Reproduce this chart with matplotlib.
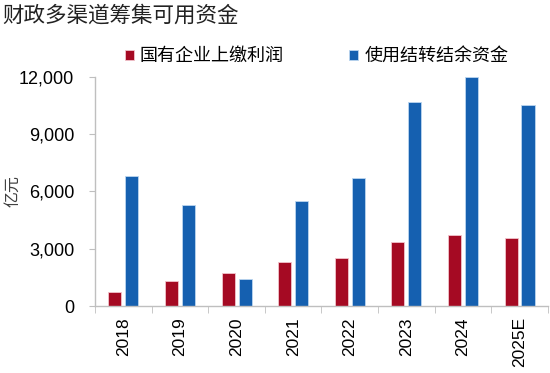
import matplotlib
matplotlib.use('Agg')
import matplotlib.pyplot as plt
import numpy as np

plt.rcParams['font.family'] = ['Liberation Sans', 'Noto Sans CJK SC', 'DejaVu Sans']

years = ['2018', '2019', '2020', '2021', '2022', '2023', '2024', '2025E']
soe_profit = [750, 1330, 1710, 2320, 2500, 3370, 3700, 3550]
carryover = [6830, 5310, 1420, 5490, 6730, 10690, 12000, 10540]

red = '#A50A23'
blue = '#1560B0'
grey = '#BFBFBF'

fig = plt.figure(figsize=(5.5, 3.73), dpi=100)
ax = fig.add_axes([0.173, 0.1796, 0.823, 0.614])

x = np.arange(len(years))
w = 0.23
ax.bar(x - 0.15, soe_profit, w, color=red, edgecolor='#F2C4CC', linewidth=0.6,
       label='国有企业上缴利润')
ax.bar(x + 0.15, carryover, w, color=blue, edgecolor='#BCD6F0', linewidth=0.6,
       label='使用结转结余资金')

ax.set_xlim(-0.5, len(years) - 0.5)
ax.set_ylim(0, 12000)
ax.set_yticks([0, 3000, 6000, 9000, 12000])
ax.set_yticklabels(['0', '3,000', '6,000', '9,000', '12,000'], fontsize=13)
ax.set_xticks(x)
ax.set_xticklabels(years, rotation=90, fontsize=12.5)
ax.set_xticks(np.arange(len(years) + 1) - 0.5, minor=True)
ax.tick_params(axis='x', which='major', length=0, pad=8)
ax.tick_params(axis='x', which='minor', length=5, color=grey)
ax.tick_params(axis='y', length=4, color=grey, pad=11)

for s in ['top', 'right']:
    ax.spines[s].set_visible(False)
for s in ['left', 'bottom']:
    ax.spines[s].set_color(grey)
    ax.spines[s].set_linewidth(1)

ax.set_ylabel('亿元', family=['Noto Sans CJK SC'], fontsize=11.5, color='#404040')
ax.yaxis.set_label_coords(-0.163, 0.5)

fig.text(0.005, 0.957, '财政多渠道筹集可用资金', family=['Noto Sans CJK SC'], fontsize=15.5,
         va='center', ha='left', color='#222222')

leg = ax.legend(loc='lower left', bbox_to_anchor=(0.049, 1.02), ncol=2, frameon=False,
                prop={'family': 'Noto Sans CJK SC', 'size': 13},
                handlelength=0.5, handleheight=0.5, handletextpad=0.35,
                columnspacing=3.6, borderaxespad=0)

fig.savefig('out.png', dpi=100)
